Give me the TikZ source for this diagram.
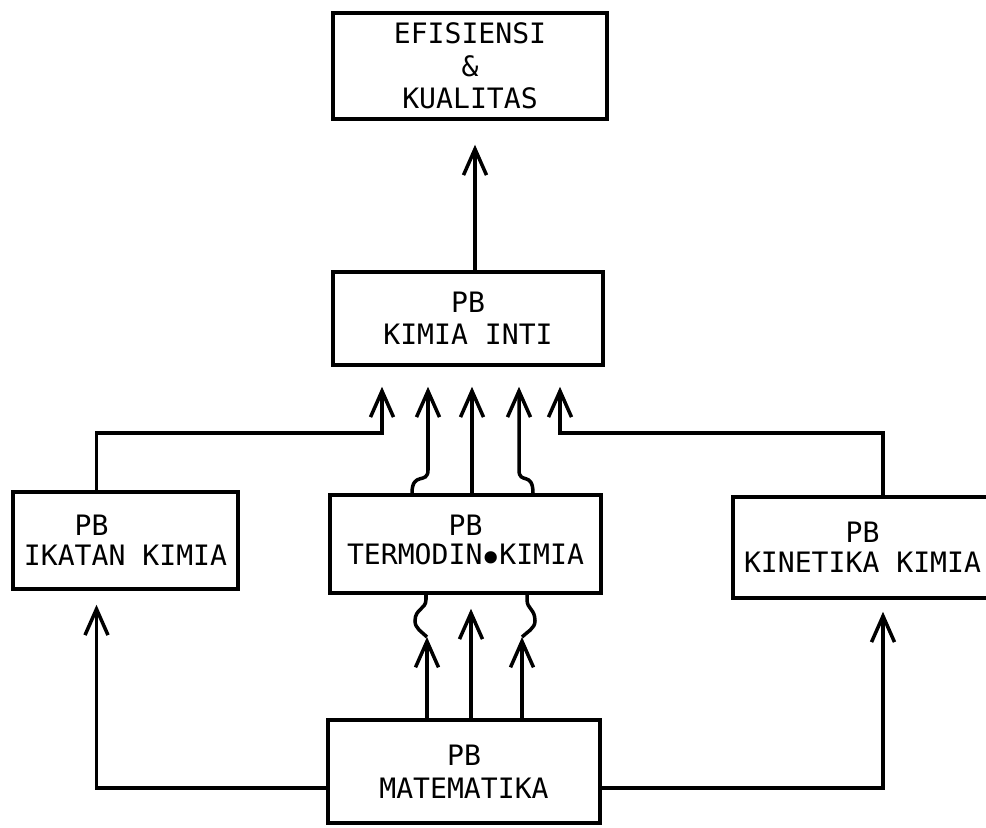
\documentclass[tikz,border=0pt]{standalone}
\usepackage{fontspec}
\setmonofont{DejaVu Sans Mono}
\usetikzlibrary{arrows.meta}

\begin{document}
\begin{tikzpicture}[
  box/.style={draw,line width=2pt,align=center,inner sep=0pt,
    font=\ttfamily\fontsize{16}{17}\selectfont},
  wire/.style={line width=2pt},
  arr/.style={wire,-{Straight Barb[length=5.2mm,width=4.6mm]}},
  short/.style={shorten >=#1}]
\useasboundingbox (0,0) rectangle (19.72,16.54);

\node[box,minimum width=5.48cm,minimum height=2.12cm,
  font=\ttfamily\fontsize{16}{18.5}\selectfont] (efis) at (9.40,15.22) {EFISIENSI\\\&\\KUALITAS};
\node[box,minimum width=5.40cm,minimum height=1.86cm,
  font=\ttfamily\fontsize{16}{18}\selectfont] (inti) at (9.36,10.17) {PB\\KIMIA INTI};
\node[box,minimum width=4.50cm,minimum height=1.94cm] (ikatan) at (2.51,5.73) {PB\phantom{0000}\\IKATAN KIMIA};
\node[box,minimum width=5.42cm,minimum height=1.96cm] (termo) at (9.31,5.66)
  {PB\\TERMODIN\makebox[0.6em]{\raisebox{-0.3em}{\fontsize{24}{24}\selectfont\textbullet}}KIMIA};
\node[box,minimum width=5.18cm,minimum height=2.02cm] (kinetik) at (17.25,5.59) {PB\\KINETIKA KIMIA};
\node[box,minimum width=5.44cm,minimum height=2.06cm,
  font=\ttfamily\fontsize{16}{18.5}\selectfont] (mat) at (9.28,1.11) {PB\\MATEMATIKA};

\coordinate (xa) at (1.93,0);
\coordinate (x1) at (7.64,0);
\coordinate (x2) at (8.56,0);
\coordinate (x2b) at (8.24,0);
\coordinate (x3) at (9.44,0);
\coordinate (x4) at (10.38,0);
\coordinate (x4b) at (10.66,0);
\coordinate (x5) at (11.20,0);
\coordinate (xk) at (17.66,0);
\coordinate (xt) at (9.50,0);
\coordinate (xm) at (9.42,0);
\coordinate (xl) at (8.52,0);
\coordinate (xr) at (10.54,0);
\coordinate (route) at (0,7.88);
\coordinate (bend) at (0,7.14);
\coordinate (low) at (0,0.78);
\coordinate (tipL) at (8.54,3.80);
\coordinate (tipR) at (10.44,3.80);

\draw[arr,short=4.8mm] (inti.north -| xt) -- (efis.south -| xt);

\draw[arr,short=4mm] (ikatan.north -| xa) |- (x1 |- route) -- (inti.south -| x1);
\draw[arr,short=4mm] (kinetik.north -| xk) |- (x5 |- route) -- (inti.south -| x5);
\draw[arr,short=4mm] (termo.north -| x3) -- (inti.south -| x3);
\draw[arr,short=4mm] (termo.north -| x2b) .. controls +(0,0.45) and +(0,-0.3) .. (x2 |- bend) -- (inti.south -| x2);
\draw[arr,short=4mm] (termo.north -| x4b) .. controls +(0,0.45) and +(0,-0.3) .. (x4 |- bend) -- (inti.south -| x4);

\draw[arr,short=2.8mm] (mat.north -| xm) -- (termo.south -| xm);
\draw[arr] (mat.north -| tipL) -- (tipL);
\draw[arr] (mat.north -| tipR) -- (tipR);
\draw[wire] (tipL) .. controls +(-0.1,0.1) and +(0,-0.15) .. (8.30,4.12)
  .. controls +(0,0.25) and +(0,-0.2) .. (8.52,4.55) -- (termo.south -| xl);
\draw[wire] (tipR) .. controls +(0.1,0.1) and +(0,-0.15) .. (10.70,4.12)
  .. controls +(0,0.25) and +(0,-0.2) .. (10.54,4.55) -- (termo.south -| xr);

\draw[arr,short=2.8mm] (mat.west |- low) -| (ikatan.south -| xa);
\draw[arr,short=2.4mm] (mat.east |- low) -| (kinetik.south -| xk);

\end{tikzpicture}
\end{document}
